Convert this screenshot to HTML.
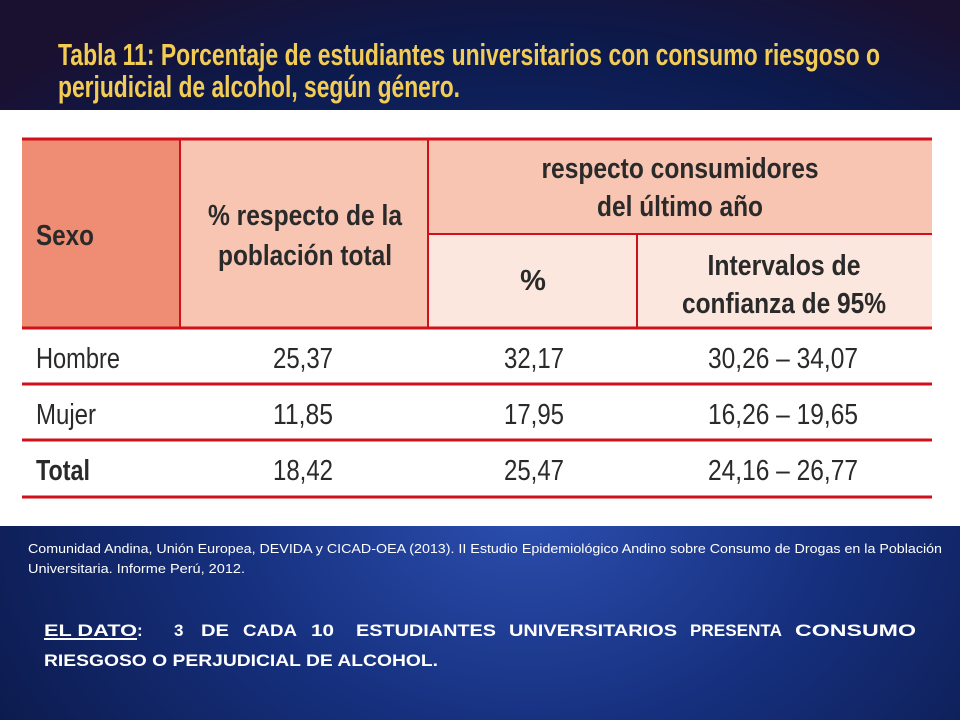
<!DOCTYPE html>
<html><head><meta charset="utf-8"><style>
html,body{margin:0;padding:0;width:960px;height:720px;overflow:hidden}
body{background:#0c1a4e;font-family:"Liberation Sans",sans-serif}
svg{position:absolute;left:0;top:0}
</style></head><body>
<svg width="960" height="720">
<defs><radialGradient id="bg" cx="0.55" cy="0.7" r="0.8"><stop offset="0" stop-color="#2c4fb0"/><stop offset="0.4" stop-color="#16307e"/><stop offset="0.8" stop-color="#0c1a4c"/><stop offset="1" stop-color="#1a1030"/></radialGradient></defs>
<rect width="960" height="720" fill="url(#bg)"/>
<g fill="#f2cc55" font-family="Liberation Sans Narrow, Liberation Sans, sans-serif" font-size="31" font-weight="bold">
<text x="58" y="65" textLength="822" lengthAdjust="spacingAndGlyphs">Tabla 11: Porcentaje de estudiantes  universitarios con consumo riesgoso o</text>
<text x="58" y="97" textLength="402" lengthAdjust="spacingAndGlyphs">perjudicial de alcohol, según género.</text>
</g>
<rect x="0" y="110" width="960" height="416" fill="#ffffff"/>
<g>
<rect x="22" y="139" width="158" height="189" fill="#ee8d73"/>
<rect x="180" y="139" width="248" height="189" fill="#f7c5b1"/>
<rect x="428" y="139" width="504" height="95" fill="#f7c5b1"/>
<rect x="428" y="234" width="504" height="94" fill="#fbe7dd"/>
<g stroke="#d0101a" stroke-width="3">
<line x1="22" y1="139" x2="932" y2="139"/>
<line x1="22" y1="328" x2="932" y2="328"/>
<line x1="428" y1="234" x2="932" y2="234" stroke-width="2"/>
<line x1="180" y1="139" x2="180" y2="328" stroke-width="2"/>
<line x1="428" y1="139" x2="428" y2="328" stroke-width="2"/>
<line x1="637" y1="234" x2="637" y2="328" stroke-width="2"/>
<line x1="22" y1="384" x2="932" y2="384"/>
<line x1="22" y1="440" x2="932" y2="440"/>
<line x1="22" y1="497" x2="932" y2="497"/>
</g>
<g fill="#2a2a2a" font-family="Liberation Sans Narrow, Liberation Sans, sans-serif" font-size="29" font-weight="bold" text-anchor="middle">
<text x="36" y="245" text-anchor="start" textLength="58" lengthAdjust="spacingAndGlyphs">Sexo</text>
<text x="305" y="225" textLength="194" lengthAdjust="spacingAndGlyphs">% respecto de la</text>
<text x="305" y="265" textLength="174" lengthAdjust="spacingAndGlyphs">población total</text>
<text x="680" y="178" textLength="277" lengthAdjust="spacingAndGlyphs">respecto consumidores</text>
<text x="680" y="216" textLength="166" lengthAdjust="spacingAndGlyphs">del último año</text>
<text x="533" y="290">%</text>
<text x="784" y="275" textLength="153" lengthAdjust="spacingAndGlyphs">Intervalos de</text>
<text x="784" y="313" textLength="204" lengthAdjust="spacingAndGlyphs">confianza de 95%</text>
</g>
<g fill="#2a2a2a" font-family="Liberation Sans Narrow, Liberation Sans, sans-serif" font-size="29" text-anchor="middle">
<text x="36" y="368" text-anchor="start" textLength="84" lengthAdjust="spacingAndGlyphs">Hombre</text>
<text x="303" y="368" textLength="60" lengthAdjust="spacingAndGlyphs">25,37</text>
<text x="534" y="368" textLength="60" lengthAdjust="spacingAndGlyphs">32,17</text>
<text x="783" y="368" textLength="150" lengthAdjust="spacingAndGlyphs">30,26 – 34,07</text>
<text x="36" y="424" text-anchor="start" textLength="60" lengthAdjust="spacingAndGlyphs">Mujer</text>
<text x="303" y="424" textLength="60" lengthAdjust="spacingAndGlyphs">11,85</text>
<text x="534" y="424" textLength="60" lengthAdjust="spacingAndGlyphs">17,95</text>
<text x="783" y="424" textLength="150" lengthAdjust="spacingAndGlyphs">16,26 – 19,65</text>
<text x="36" y="480" text-anchor="start" font-weight="bold" textLength="54" lengthAdjust="spacingAndGlyphs">Total</text>
<text x="303" y="480" textLength="60" lengthAdjust="spacingAndGlyphs">18,42</text>
<text x="534" y="480" textLength="60" lengthAdjust="spacingAndGlyphs">25,47</text>
<text x="783" y="480" textLength="150" lengthAdjust="spacingAndGlyphs">24,16 – 26,77</text>
</g>
</g>
<g fill="#ffffff" font-size="12.5">
<text x="28" y="553" textLength="914" lengthAdjust="spacingAndGlyphs">Comunidad Andina, Unión Europea, DEVIDA y CICAD-OEA (2013). II Estudio Epidemiológico Andino sobre Consumo de Drogas en la Población</text>
<text x="28" y="573" textLength="217" lengthAdjust="spacingAndGlyphs">Universitaria. Informe Perú, 2012.</text>
</g>
<g fill="#ffffff" font-size="17" font-weight="bold">
<text x="44" y="636" textLength="93" lengthAdjust="spacingAndGlyphs">EL DATO</text>
<text x="137" y="636">:</text>
<rect x="44" y="638" width="93" height="2" fill="#ffffff"/>
<text x="174" y="636">3</text>
<text x="201" y="636" textLength="28" lengthAdjust="spacingAndGlyphs">DE</text>
<text x="243" y="636" textLength="54" lengthAdjust="spacingAndGlyphs">CADA</text>
<text x="311" y="636" textLength="23" lengthAdjust="spacingAndGlyphs">10</text>
<text x="356" y="636" textLength="140" lengthAdjust="spacingAndGlyphs">ESTUDIANTES</text>
<text x="509" y="636" textLength="168" lengthAdjust="spacingAndGlyphs">UNIVERSITARIOS</text>
<text x="690" y="636" textLength="92" lengthAdjust="spacingAndGlyphs">PRESENTA</text>
<text x="795" y="636" textLength="121" lengthAdjust="spacingAndGlyphs">CONSUMO</text>
<text x="44" y="666" textLength="394" lengthAdjust="spacingAndGlyphs">RIESGOSO O PERJUDICIAL DE ALCOHOL.</text>
</g>
</svg>
</body></html>
